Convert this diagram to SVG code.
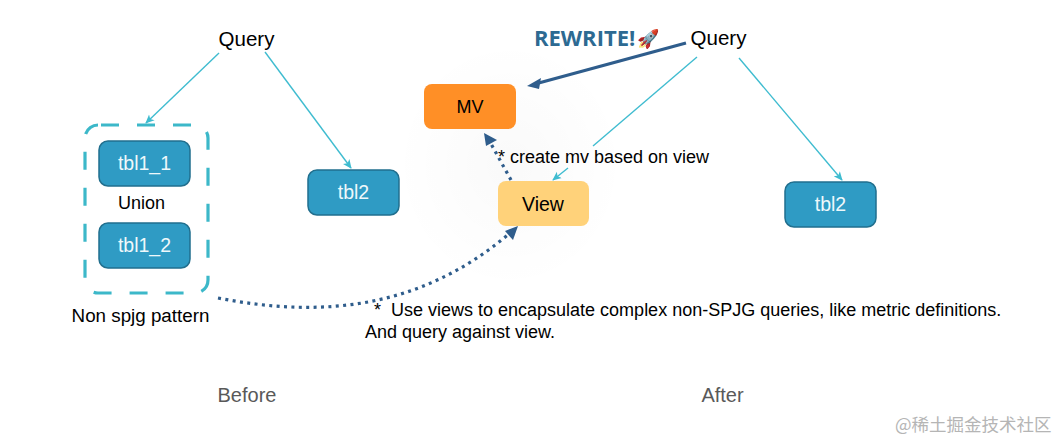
<svg xmlns="http://www.w3.org/2000/svg" width="1061" height="440" viewBox="0 0 1061 440">
<style>
text{font-family:"Liberation Sans",Arial,sans-serif;font-size:18px;fill:#000}
.m{text-anchor:middle}
.tbl{fill:#2f9bc4;stroke:#216f8e;stroke-width:1.5}
.tt{fill:#eef8fb;font-size:19.500px;text-anchor:middle}
.cy{fill:none;stroke:#3fbcd0;stroke-width:1.4}
.arr{marker-end:url(#cyanHead)}
.cap{fill:#595959;font-size:20px;text-anchor:middle}
.dot{fill:none;stroke:#2f5d8c;stroke-width:3.200;stroke-dasharray:3 4.400}
.q{font-size:20.500px}
</style>
<defs>
<marker id="cyanHead" viewBox="0 0 10 10" refX="9" refY="5" markerWidth="9" markerHeight="9" markerUnits="userSpaceOnUse" orient="auto"><path d="M0 0.5L10 5L0 9.5L2.5 5Z" fill="#3fbcd0"/></marker>
<radialGradient id="glow"><stop offset="0" stop-color="#000" stop-opacity=".022"/><stop offset="1" stop-color="#000" stop-opacity="0"/></radialGradient>
</defs>
<rect width="1061" height="440" fill="#fff"/>
<ellipse cx="510" cy="165" rx="115" ry="125" fill="url(#glow)"/>
<g id="connectors">
<path class="cy arr" d="M219 53L146 123"/>
<path class="cy arr" d="M265 52L351 168"/>
<path class="cy" d="M697 57L593 146"/>
<path class="cy arr" d="M568 168L553 180"/>
<path class="cy arr" d="M739 58L842 180"/>
<path d="M686 43L535 84" fill="none" stroke="#2f5d8c" stroke-width="3.200"/>
<path d="M527 86L541 78L539 89Z" fill="#2f5d8c"/>
<path class="dot" d="M511 180L490 142"/>
<path d="M484 133L497 140L486 146Z" fill="#2f5d8c"/>
<path class="dot" d="M218 298C320 318 420 310 510 233"/>
<path d="M518 226L513 240L505 231Z" fill="#2f5d8c"/>
</g>
<g id="group-box"><rect x="85" y="125" width="123" height="168" rx="13" fill="none" stroke="#3cb8c9" stroke-width="3.200" stroke-dasharray="18 18" stroke-dashoffset="33"/></g>
<g id="query-before"><text class="m q" x="246.500" y="46">Query</text></g>
<g id="tbl1-1"><rect class="tbl" x="99" y="141" width="91" height="45" rx="9"/><text class="tt" x="144.500" y="170">tbl1_1</text></g>
<g id="union"><text class="m" x="141.500" y="209">Union</text></g>
<g id="tbl1-2"><rect class="tbl" x="99" y="223" width="91" height="45" rx="9"/><text class="tt" x="144.500" y="252">tbl1_2</text></g>
<g id="pattern"><text class="m" x="140.500" y="322" style="font-size:18.800px">Non spjg pattern</text></g>
<g id="tbl2-before"><rect class="tbl" x="308" y="170" width="91" height="45" rx="9"/><text class="tt" x="353.500" y="199">tbl2</text></g>
<g id="rewrite"><text x="534" y="46" style="font-family:'Open Sans','Liberation Sans',sans-serif;font-size:22px;font-weight:700;fill:#2d6a92">REWRITE!<tspan x="637" y="45" style="font-size:18px">🚀</tspan></text></g>
<g id="query-after"><text class="m q" x="718.500" y="45">Query</text></g>
<g id="mv"><rect x="424" y="84" width="92" height="45" rx="8" fill="#ff8f26"/><text class="m" x="470" y="113">MV</text></g>
<g id="mv-note"><text x="498" y="163">*<tspan x="510">create mv based on view</tspan></text></g>
<g id="view"><rect x="498" y="181" width="91" height="45" rx="8" fill="#ffd27a"/><text class="m" x="543" y="211" style="font-size:19.500px">View</text></g>
<g id="tbl2-after"><rect class="tbl" x="785" y="182" width="91" height="45" rx="9"/><text class="tt" x="830.500" y="211">tbl2</text></g>
<g id="note"><text x="374" y="316">*<tspan x="391">Use views to encapsulate complex non-SPJG queries, like metric definitions.</tspan></text><text x="365" y="338">And query against view.</text></g>
<g id="captions"><text class="cap" x="247" y="402">Before</text><text class="cap" x="722.500" y="402">After</text></g>
<g id="watermark"><text x="895" y="431" style="font-family:'Noto Sans CJK SC','Noto Sans',sans-serif;font-size:17.500px;fill:#b5b5b5">@稀土掘金技术社区</text></g>
</svg>
